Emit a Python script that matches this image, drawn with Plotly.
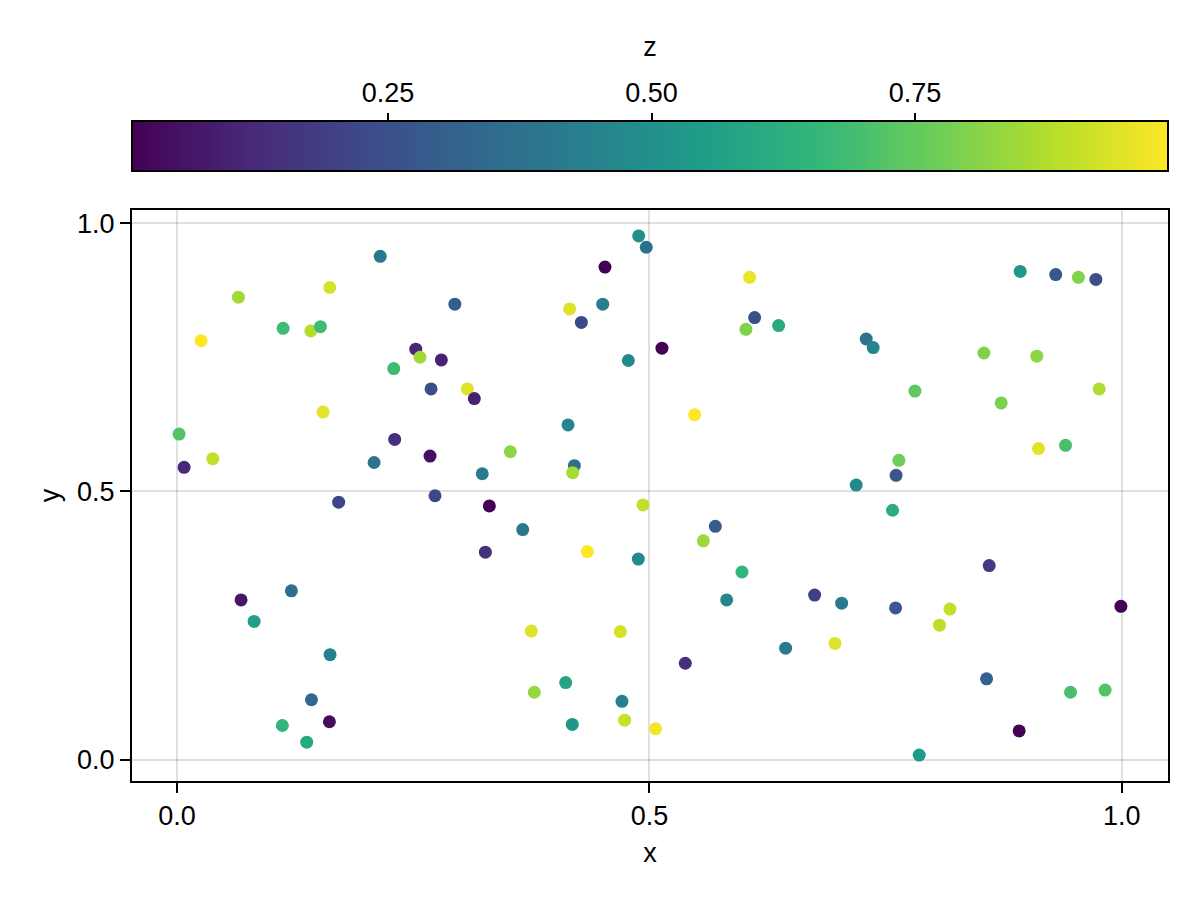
import numpy as np
import plotly.graph_objects as go

# scatter points (x, y, colour value z)
x = [0.215, 0.1616, 0.0649, 0.294, 0.1122, 0.1415, 0.1517, 0.0254, 0.2526, 0.2571,
     0.2797, 0.2293, 0.2688, 0.3072, 0.3146, 0.1545, 0.0021, 0.0074, 0.0378, 0.2303,
     0.2677, 0.2085, 0.323, 0.171, 0.273, 0.4886, 0.4966, 0.4529, 0.606, 0.4505,
     0.4155, 0.4279, 0.6113, 0.6021, 0.6367, 0.5132, 0.4776, 0.5478, 0.4138, 0.3527,
     0.4205, 0.4187, 0.4931, 0.8924, 0.930, 0.954, 0.9725, 0.7294, 0.7368, 0.854,
     0.910, 0.781, 0.8723, 0.976, 0.9118, 0.9404, 0.764, 0.761, 0.7188, 0.3263,
     0.121, 0.0677, 0.0815, 0.1619, 0.1422, 0.1114, 0.1372, 0.1612, 0.3305, 0.3658,
     0.4342, 0.4882, 0.5697, 0.557, 0.5979, 0.5817, 0.6748, 0.6441, 0.6963, 0.3749,
     0.4691, 0.5379, 0.4113, 0.3781, 0.4709, 0.4183, 0.4737, 0.5065, 0.7573, 0.8596,
     0.999, 0.7034, 0.7605, 0.818, 0.807, 0.8568, 0.9457, 0.9823, 0.8913, 0.7855]
y = [0.938, 0.880, 0.862, 0.849, 0.804, 0.799, 0.807, 0.781, 0.765, 0.750,
     0.745, 0.729, 0.691, 0.691, 0.673, 0.648, 0.607, 0.545, 0.561, 0.597,
     0.566, 0.554, 0.533, 0.480, 0.492, 0.976, 0.955, 0.918, 0.899, 0.849,
     0.840, 0.815, 0.824, 0.802, 0.809, 0.767, 0.744, 0.643, 0.624, 0.574,
     0.548, 0.535, 0.475, 0.910, 0.904, 0.899, 0.895, 0.784, 0.768, 0.758,
     0.752, 0.687, 0.665, 0.691, 0.580, 0.586, 0.558, 0.530, 0.512, 0.387,
     0.315, 0.298, 0.258, 0.196, 0.112, 0.064, 0.033, 0.071, 0.473, 0.429,
     0.388, 0.374, 0.435, 0.408, 0.350, 0.298, 0.307, 0.208, 0.217, 0.240,
     0.239, 0.180, 0.144, 0.126, 0.109, 0.066, 0.074, 0.058, 0.465, 0.362,
     0.286, 0.292, 0.283, 0.281, 0.251, 0.151, 0.126, 0.130, 0.054, 0.009]
z = [0.40, 0.93, 0.85, 0.30, 0.68, 0.88, 0.68, 0.99, 0.12, 0.85,
     0.10, 0.68, 0.25, 0.94, 0.10, 0.95, 0.72, 0.12, 0.90, 0.14,
     0.05, 0.38, 0.42, 0.22, 0.22, 0.50, 0.37, 0.007, 0.96, 0.43,
     0.94, 0.23, 0.25, 0.80, 0.60, 0.01, 0.47, 0.99, 0.45, 0.82,
     0.37, 0.86, 0.90, 0.52, 0.28, 0.80, 0.25, 0.38, 0.45, 0.80,
     0.82, 0.74, 0.79, 0.87, 0.95, 0.70, 0.77, 0.28, 0.47, 0.15,
     0.36, 0.07, 0.56, 0.44, 0.33, 0.65, 0.60, 0.04, 0.01, 0.40,
     0.99, 0.47, 0.29, 0.84, 0.65, 0.46, 0.20, 0.41, 0.94, 0.94,
     0.93, 0.14, 0.58, 0.83, 0.44, 0.52, 0.91, 0.97, 0.62, 0.18,
     0.01, 0.41, 0.29, 0.90, 0.89, 0.31, 0.70, 0.72, 0.01, 0.54]

x_ticks = [0.0, 0.5, 1.0]
y_ticks = [0.0, 0.5, 1.0]
z_ticks = [0.25, 0.50, 0.75]

font_name = "Liberation Sans"
fs = 27
black = "black"
grid = "rgba(0,0,0,0.12)"

# the page body adds an 8px offset, so the figure is 8px smaller than the window
OFF = 8
W, H = 1200 - OFF, 900 - OFF
# target positions in window pixels
plot_l, plot_r, plot_top, plot_bot = 132, 1168, 210, 781
cbar_top, cbar_bottom = 123, 173
m_l, m_r = plot_l - OFF, 1200 - plot_r
m_t, m_b = 30 - OFF, 900 - plot_bot
paper_h = H - m_t - m_b


def to_paper(py):
    return (plot_bot - py) / paper_h


def padded(v, frac=0.05):
    lo, hi = min(v), max(v)
    m = (hi - lo) * frac
    return [lo - m, hi + m]


fig = go.Figure()
fig.add_trace(go.Scatter(
    x=x, y=y, mode="markers",
    marker=dict(
        size=13, color=z, colorscale="Viridis",
        cmin=min(z), cmax=max(z),
        line=dict(width=0),
        colorbar=dict(
            orientation="h",
            x=0.5, xanchor="center", xpad=0,
            y=to_paper(cbar_bottom), yanchor="bottom", ypad=0,
            len=1.0, lenmode="fraction",
            thickness=cbar_bottom - cbar_top,
            outlinewidth=2, outlinecolor=black,
            ticks="", showticklabels=False,
        ),
    ),
    showlegend=False,
))

# invisible helper so the colour-bar tick axis gets drawn
fig.add_trace(go.Scatter(
    x=z, y=y, xaxis="x2", mode="markers",
    marker=dict(opacity=0), hoverinfo="skip", showlegend=False,
))

axis_common = dict(
    showline=True, linecolor=black, linewidth=2, mirror=True,
    showgrid=True, gridcolor=grid, gridwidth=2,
    zeroline=False,
    ticks="outside", ticklen=10, tickwidth=2, tickcolor=black,
    tickfont=dict(size=fs, color=black),
    tickformat=".1f",
    automargin=True,
)

fig.update_xaxes(range=padded(x), tickvals=x_ticks,
                 title=dict(text="x", font=dict(size=fs, color=black), standoff=13),
                 **axis_common)
fig.update_yaxes(range=padded(y), tickvals=y_ticks, domain=[0, to_paper(plot_top)],
                 title=dict(text="y", font=dict(size=fs, color=black), standoff=10),
                 **axis_common)

# tick axis drawn along the top edge of the colour bar
fig.update_layout(xaxis2=dict(
    overlaying="x", anchor="free", position=to_paper(cbar_top), side="top",
    range=[min(z), max(z)], tickvals=z_ticks, tickformat=".2f",
    showgrid=False, zeroline=False, showline=False,
    ticks="outside", ticklen=10, tickwidth=2, tickcolor=black,
    tickfont=dict(size=fs, color=black),
    title=dict(text="z", font=dict(size=fs, color=black), standoff=12),
))

fig.update_layout(
    width=W, height=H,
    margin=dict(l=m_l, r=m_r, t=m_t, b=m_b, autoexpand=False),
    paper_bgcolor="white", plot_bgcolor="white",
    font=dict(family=font_name, size=fs, color=black),
)

fig.write_html("out.html")
